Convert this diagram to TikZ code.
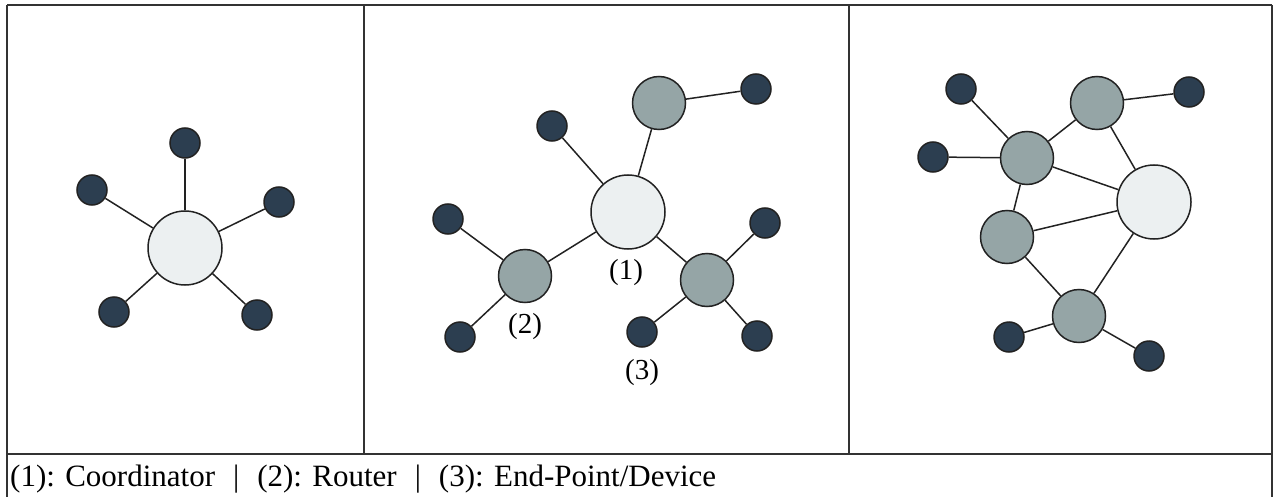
\documentclass[tikz,border=0pt]{standalone}
\usepackage{fontspec}
\setmainfont{Liberation Serif}
\definecolor{ep}{HTML}{2C3E50}
\definecolor{rt}{HTML}{95A5A6}
\definecolor{co}{HTML}{ECF0F1}
\definecolor{ln}{HTML}{222222}
\newcommand{\capsep}{\hspace{18pt}|\hspace{18pt}}
\begin{document}
\begin{tikzpicture}[x=1pt,y=-1pt,
  base/.style={circle,draw=ln,line width=1.5pt,inner sep=0pt},
  endpt/.style={base,fill=ep,minimum size=30pt},
  router/.style={base,fill=rt,minimum size=53pt},
  coord/.style={base,fill=co,minimum size=74pt},
  link/.style={draw=ln,line width=1.5pt},
  lbl/.style={font=\fontsize{29}{34}\selectfont,inner sep=0pt},
  caplbl/.style={font=\fontsize{31}{36}\selectfont,inner sep=0pt},
  frame/.style={draw=black!80,line width=2pt}]
\useasboundingbox (0,0) rectangle (1273,497);
% frame
\draw[frame] (7,5) -- (1272,5);
\draw[frame] (7,5) -- (7,497);
\draw[frame] (1272,5) -- (1272,497);
\draw[frame] (364,5) -- (364,454);
\draw[frame] (849,5) -- (849,454);
\draw[frame] (7,454) -- (1272,454);
% panel 1: star
\node[coord] (a0) at (185,248) {};
\node[endpt] (a1) at (185,143) {};
\node[endpt] (a2) at (92,190) {};
\node[endpt] (a3) at (279,202) {};
\node[endpt] (a4) at (114,312) {};
\node[endpt] (a5) at (257,315) {};
\foreach \n in {a1,a2,a3,a4,a5} \draw[link] (a0) -- (\n);
% panel 2: tree
\node[coord] (b0) at (628,212) {};
\node[router] (bt) at (659,103) {};
\node[router] (bl) at (525,276) {};
\node[router] (br) at (707,280) {};
\node[endpt] (b1) at (756,89) {};
\node[endpt] (b2) at (552,126) {};
\node[endpt] (b3) at (448,219) {};
\node[endpt] (b4) at (460,337) {};
\node[endpt] (b5) at (765,223) {};
\node[endpt] (b6) at (642,332) {};
\node[endpt] (b7) at (757,336) {};
\draw[link] (b0) -- (bt);
\draw[link] (b0) -- (bl);
\draw[link] (b0) -- (br);
\draw[link] (b0) -- (b2);
\draw[link] (bt) -- (b1);
\draw[link] (bl) -- (b3);
\draw[link] (bl) -- (b4);
\draw[link] (br) -- (b5);
\draw[link] (br) -- (b6);
\draw[link] (br) -- (b7);
\node[lbl] (l1) at (626,273) {(1)};
\node[lbl] (l2) at (525,327) {(2)};
\node[lbl] (l3) at (642,373) {(3)};
% panel 3: mesh
\node[coord] (c0) at (1154,202) {};
\node[router] (ct) at (1097,103) {};
\node[router] (cu) at (1027,158) {};
\node[router] (cm) at (1007,237) {};
\node[router] (cb) at (1079,316) {};
\node[endpt] (c1) at (961,89) {};
\node[endpt] (c2) at (933,157) {};
\node[endpt] (c3) at (1189,92) {};
\node[endpt] (c4) at (1009,337) {};
\node[endpt] (c5) at (1149,356) {};
\draw[link] (c1) -- (cu);
\draw[link] (c2) -- (cu);
\draw[link] (cu) -- (ct);
\draw[link] (ct) -- (c3);
\draw[link] (ct) -- (c0);
\draw[link] (cu) -- (c0);
\draw[link] (cu) -- (cm);
\draw[link] (cm) -- (c0);
\draw[link] (cm) -- (cb);
\draw[link] (cb) -- (c0);
\draw[link] (cb) -- (c4);
\draw[link] (cb) -- (c5);
% caption
\node[caplbl,anchor=base west] (cap) at (10,486) {(1): Coordinator\capsep(2): Router\capsep(3): End-Point/Device};
\end{tikzpicture}
\end{document}
